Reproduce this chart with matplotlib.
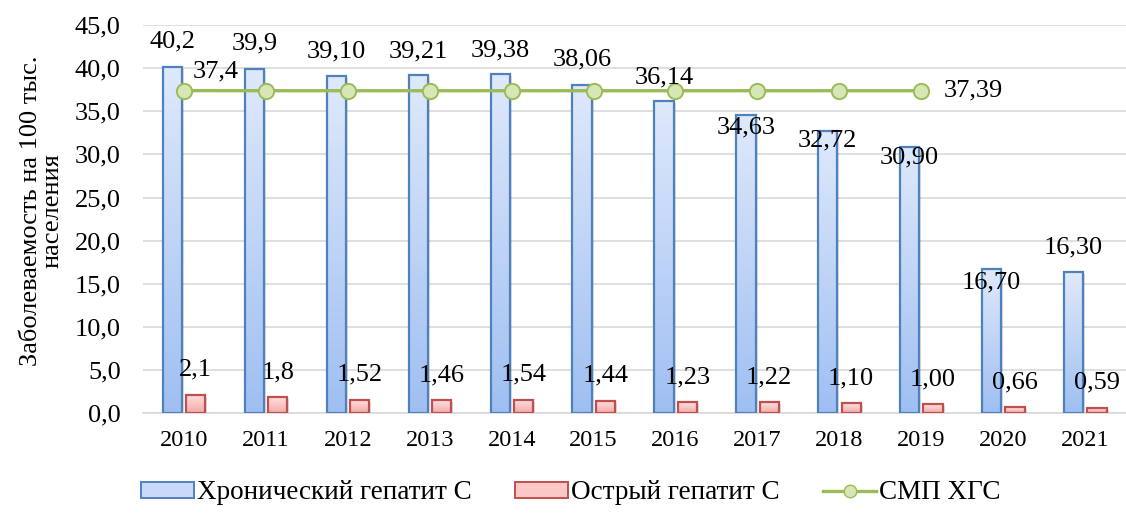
import numpy as np
import matplotlib
matplotlib.use("Agg")
import matplotlib.pyplot as plt
import matplotlib.transforms as mtransforms
from matplotlib.colors import LinearSegmentedColormap
from matplotlib.patches import Patch
from matplotlib.lines import Line2D

plt.rcParams["font.family"] = ["Liberation Serif", "DejaVu Serif"]

years = ["2010", "2011", "2012", "2013", "2014", "2015",
         "2016", "2017", "2018", "2019", "2020", "2021"]
chronic_labels = ["40,2", "39,9", "39,10", "39,21", "39,38", "38,06",
                  "36,14", "34,63", "32,72", "30,90", "16,70", "16,30"]
acute_labels = ["2,1", "1,8", "1,52", "1,46", "1,54", "1,44",
                "1,23", "1,22", "1,10", "1,00", "0,66", "0,59"]
smp_labels = ["37,4", "37,39", "37,39", "37,39", "37,39",
              "37,39", "37,39", "37,39", "37,39", "37,39"]
yticks = [0, 5, 10, 15, 20, 25, 30, 35, 40, 45]


def to_num(items):
    return np.array([float(s.replace(",", ".")) for s in items])


chronic = to_num(chronic_labels)
acute = to_num(acute_labels)
smp = to_num(smp_labels)

# vertical offsets (pixels) of the chronic-hepatitis value labels
chronic_dy = [25, 26, 25, 24, 23.5, 25, 24.5, -12.5, -9, -11, -13, 25.5]

fig = plt.figure(figsize=(11.26, 5.13), dpi=100)
ax = fig.add_axes([0.127, 0.195, 0.873, 0.756])

x = np.arange(len(years))
w = 0.235
off_c, off_a = -0.14, 0.145
ax.set_xlim(-0.5, len(years) - 0.5)
ax.set_ylim(0, 45)

blue_cmap = LinearSegmentedColormap.from_list("b", ["#9fbff2", "#dfe9fb"])
red_cmap = LinearSegmentedColormap.from_list("r", ["#f5a9a9", "#ffe1e1"])
grad = np.linspace(0, 1, 256).reshape(-1, 1)
shadow_tr = mtransforms.offset_copy(ax.transData, fig=fig, x=2, y=-2,
                                    units="dots")


def gradient_bars(xs, heights, cmap, edge):
    ax.bar(xs, heights, width=w, color="#000000", alpha=0.12,
           linewidth=0, zorder=1.5, transform=shadow_tr)
    bars = ax.bar(xs, heights, width=w, facecolor="none", edgecolor=edge,
                  linewidth=1.6, zorder=3)
    for b in bars:
        x0, y0 = b.get_x(), b.get_y()
        im = ax.imshow(grad, cmap=cmap, origin="lower", aspect="auto",
                       extent=(x0, x0 + b.get_width(), y0, y0 + b.get_height()),
                       zorder=2, interpolation="bicubic")
        im.set_clip_path(b)
    return bars


gradient_bars(x + off_c, chronic, blue_cmap, "#4f81bd")
gradient_bars(x + off_a, acute, red_cmap, "#c0504d")

xs_line = x[:len(smp)]
ax.plot(xs_line, smp, color="#9bbb59", linewidth=2.4, marker="o",
        markersize=11, markerfacecolor="#d7e6b5", markeredgecolor="#9bbb59",
        markeredgewidth=1.4, zorder=5)

lab_fs = 19
for xi, v, s, dy in zip(x, chronic, chronic_labels, chronic_dy):
    ax.annotate(s, (xi + off_c, v), xytext=(0, dy), textcoords="offset pixels",
                ha="center", va="center", fontsize=lab_fs, zorder=6)
for xi, v, s in zip(x, acute, acute_labels):
    ax.annotate(s, (xi + off_a, v), xytext=(0, 25), textcoords="offset pixels",
                ha="center", va="center", fontsize=lab_fs, zorder=6)
ax.annotate(smp_labels[0], (xs_line[0], smp[0]), xytext=(32, 19),
            textcoords="offset pixels", ha="center", va="center",
            fontsize=lab_fs, zorder=6)
ax.annotate(smp_labels[-1], (xs_line[-1], smp[-1]), xytext=(22, 0),
            textcoords="offset pixels", ha="left", va="center",
            fontsize=lab_fs, zorder=6)

ax.set_yticks(yticks)
ax.set_yticklabels([f"{t:.1f}".replace(".", ",") for t in yticks], fontsize=19)
ax.set_xticks(x)
ax.set_xticklabels(years, fontsize=17.5)
ax.yaxis.grid(True, color="#d9d9d9", linewidth=1.2, zorder=0)
ax.set_axisbelow(True)
for side in ("top", "right", "left"):
    ax.spines[side].set_visible(False)
ax.spines["bottom"].set_color("#d9d9d9")
ax.spines["bottom"].set_linewidth(1.2)
ax.tick_params(axis="y", length=0, pad=16)
ax.tick_params(axis="x", length=0, pad=12)

fig.text(0.037, 0.59, "Заболеваемость на 100 тыс.\nнаселения", rotation=90,
         ha="center", va="center", fontsize=19, multialignment="center",
         linespacing=1.0)

handles = [
    Patch(facecolor="#c9daf8", edgecolor="#4f81bd", linewidth=1.4),
    Patch(facecolor="#fbc8c8", edgecolor="#c0504d", linewidth=1.4),
    Line2D([0], [0], color="#9bbb59", linewidth=2.4, marker="o", markersize=9,
           markerfacecolor="#d7e6b5", markeredgecolor="#9bbb59"),
]
fig.legend(handles, ["Хронический гепатит С", "Острый гепатит С", "СМП ХГС"],
           loc="center", bbox_to_anchor=(0.507, 0.039), ncol=3, frameon=False,
           fontsize=19.5, handlelength=1.95, handleheight=0.55,
           handletextpad=0.12, columnspacing=1.6)

fig.savefig("out.png", dpi=100)
